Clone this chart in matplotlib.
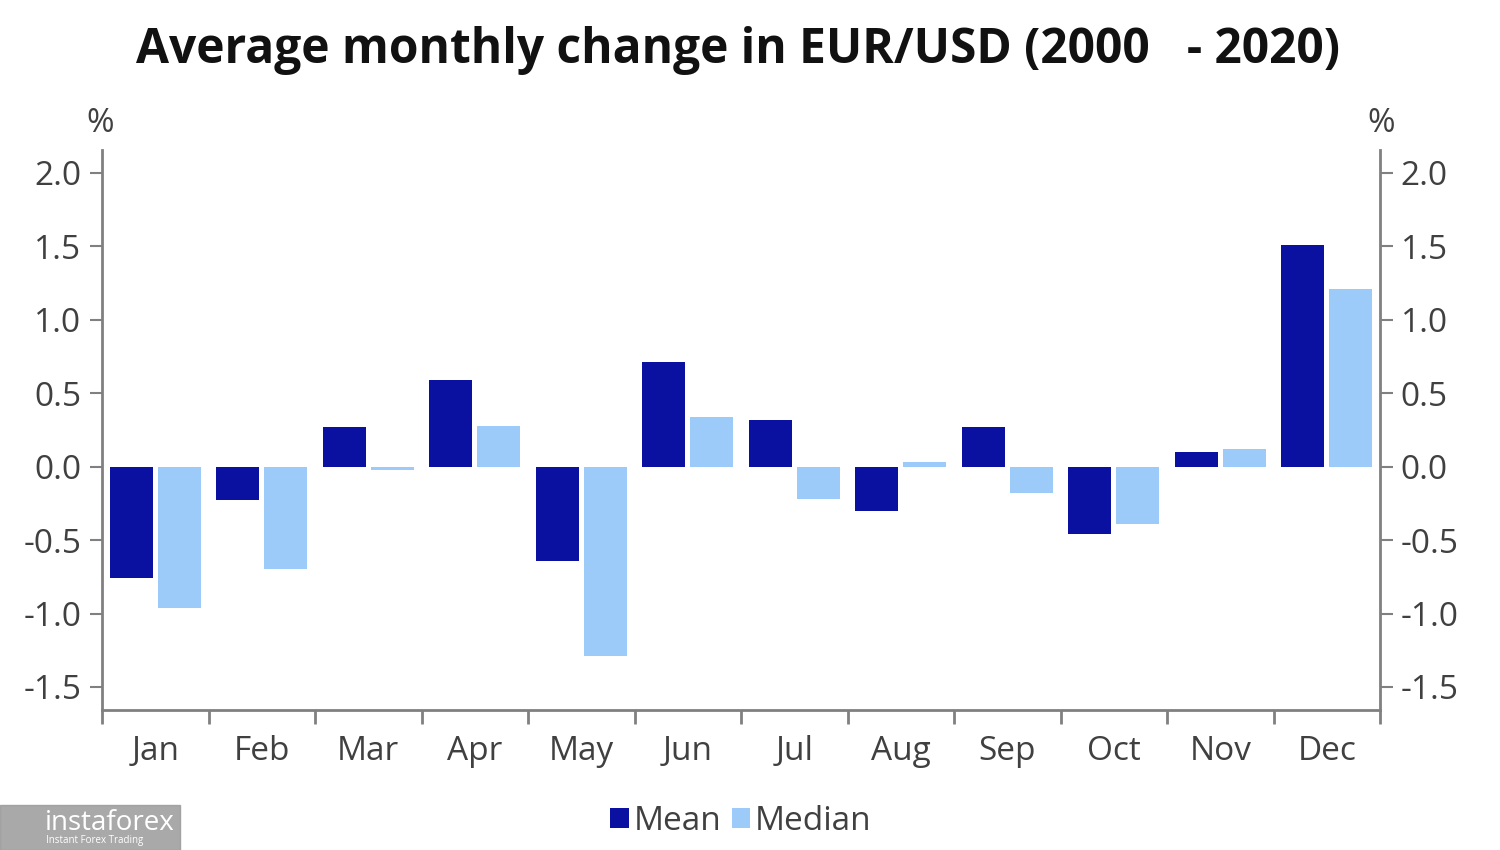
import numpy as np
import matplotlib.pyplot as plt
from matplotlib.patches import Rectangle

plt.rcParams['font.family'] = ['Open Sans', 'DejaVu Sans']

months = ['Jan', 'Feb', 'Mar', 'Apr', 'May', 'Jun', 'Jul', 'Aug', 'Sep', 'Oct', 'Nov', 'Dec']
mean_chg = [-0.76, -0.23, 0.27, 0.59, -0.64, 0.71, 0.32, -0.30, 0.27, -0.46, 0.10, 1.51]
median_chg = [-0.96, -0.70, -0.02, 0.28, -1.29, 0.34, -0.22, 0.03, -0.18, -0.39, 0.12, 1.21]
yticks = [-1.5, -1.0, -0.5, 0.0, 0.5, 1.0, 1.5, 2.0]

c_mean = '#0A10A0'
c_median = '#9DCBF9'
c_axis = '#808080'
c_text = '#404040'


def main():
    fig = plt.figure(figsize=(15, 8.5), dpi=100)
    ax = fig.add_axes([0.068, 0.1647, 0.852, 0.6588])

    x = np.arange(len(months))
    w = 0.40
    ax.bar(x - 0.225, mean_chg, width=w, color=c_mean, label='Mean')
    ax.bar(x + 0.225, median_chg, width=w, color=c_median, label='Median')

    ax.set_xlim(-0.5, 11.5)
    ax.set_ylim(-1.657, 2.156)

    for s in ['left', 'right', 'bottom']:
        ax.spines[s].set_color(c_axis)
        ax.spines[s].set_linewidth(2)
    ax.spines['top'].set_visible(False)

    ax.set_yticks(yticks)
    ax.set_yticklabels([f'{v:.1f}' for v in yticks])
    ax.tick_params(axis='y', which='both', left=True, right=True, labelleft=True, labelright=True,
                   direction='out', length=9, width=1.5, color=c_axis, labelsize=24,
                   labelcolor=c_text, pad=6)

    ax.set_xticks(np.arange(-0.5, 12, 1.0))
    ax.set_xticklabels([])
    ax.set_xticks(x, minor=True)
    ax.set_xticklabels(months, minor=True)
    ax.tick_params(axis='x', which='major', direction='out', length=10, width=2, color=c_axis)
    ax.tick_params(axis='x', which='minor', length=0, labelsize=24, labelcolor=c_text, pad=18)

    fig.text(0.0667, 0.855, '%', fontsize=24, color=c_text, ha='center', va='center')
    fig.text(0.921, 0.855, '%', fontsize=24, color=c_text, ha='center', va='center')

    fig.suptitle('Average monthly change in EUR/USD (2000   - 2020)', x=0.492, y=0.941,
                 va='center', fontsize=34.5, fontweight='bold', color='#111111')

    fig.legend(loc='center', bbox_to_anchor=(0.494, 0.034), ncol=2, frameon=False,
               fontsize=24, labelcolor=c_text, handlelength=0.55, handleheight=0.55,
               handletextpad=0.15, columnspacing=0.3)

    # watermark box bottom-left
    fig.patches.append(Rectangle((0.0, 0.0), 0.12, 0.053, transform=fig.transFigure,
                                 color='#9A9A9A', alpha=0.85, zorder=5))
    fig.text(0.03, 0.032, 'instaforex', fontsize=20, color='white', va='center', zorder=6)
    fig.text(0.031, 0.011, 'Instant Forex Trading', fontsize=7, color='white', va='center', zorder=6)

    fig.savefig('out.png', dpi=100, facecolor='white')
    return 0


if __name__ == '__main__':
    main()
